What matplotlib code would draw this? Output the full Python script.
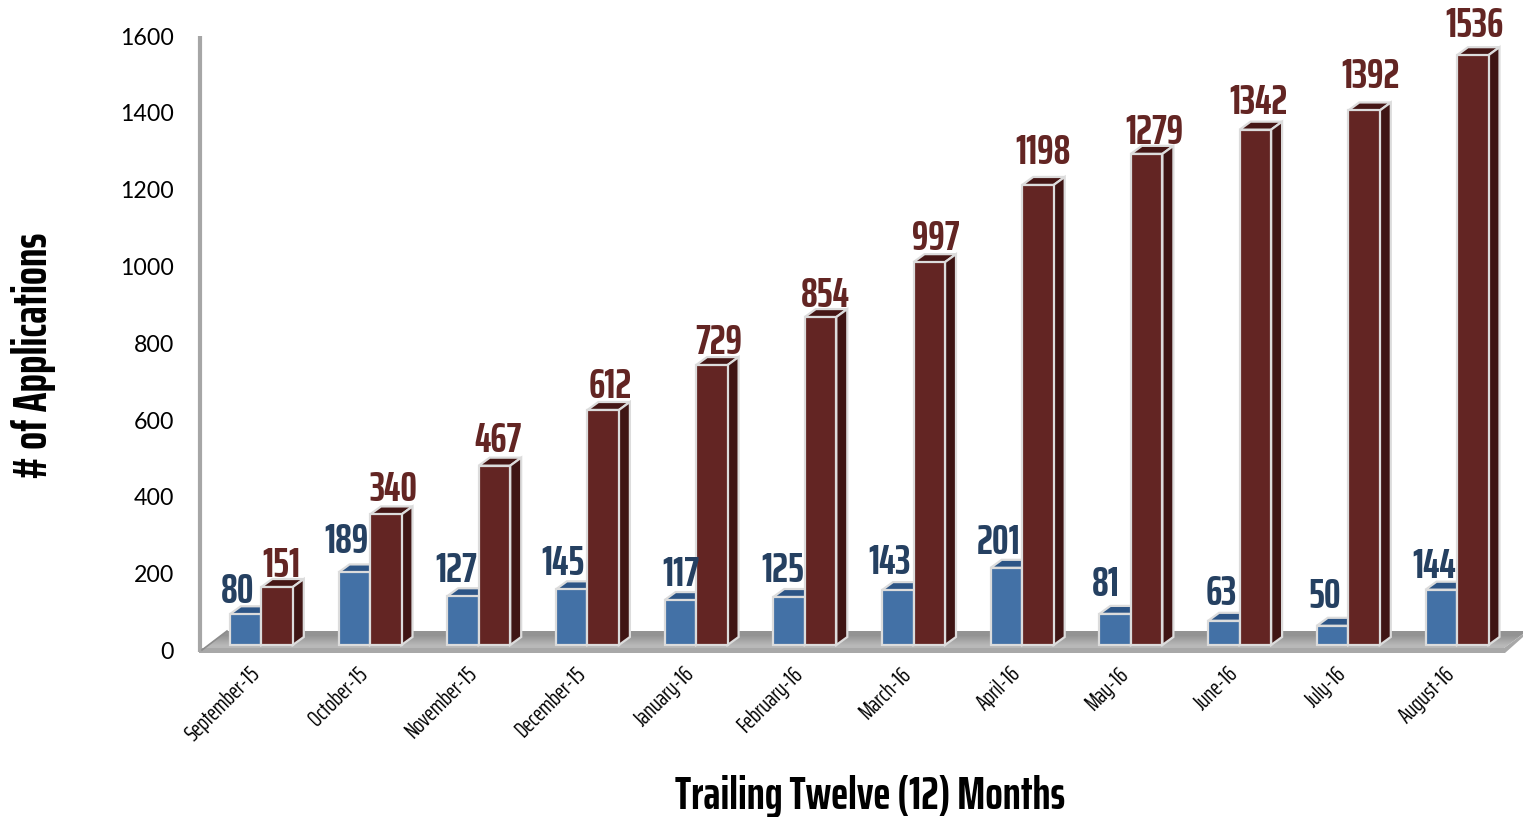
import matplotlib
matplotlib.use('Agg')
import matplotlib.pyplot as plt
from matplotlib.patches import Polygon

months = ['September-15', 'October-15', 'November-15', 'December-15', 'January-16', 'February-16',
          'March-16', 'April-16', 'May-16', 'June-16', 'July-16', 'August-16']
blue_values = [80, 189, 127, 145, 117, 125, 143, 201, 81, 63, 50, 144]
red_values = [151, 340, 467, 612, 729, 854, 997, 1198, 1279, 1342, 1392, 1536]
y_ticks = [0, 200, 400, 600, 800, 1000, 1200, 1400, 1600]

# сдвиги подписей в пикселях: подписи в оригинале расставлены не совсем ровно
blue_dx = [-13, -13, -12, -14, -5, -12, -14, -13, -15, -8, -13, -13]
blue_gap = [3, 11, 6, 6, 6, 7, 8, 6, 10, 8, 10, 4]
red_dx = [-1, 2, -2, 2, 1, -1, 1, 0, 2, -2, 1, -4]
red_gap = [2, 5, 6, 4, 3, 2, 4, 13, 2, 8, 14, 10]

WIDTH_PX = 1523
HEIGHT_PX = 817
SLOT_PX = 108.7      # шаг между месяцами
UNIT_PX = 0.384      # пикселей на одну заявку
ZERO_X = 261.3       # граница синего и красного столбца в первом месяце
ZERO_Y = 645
BAR_W = 31.5 / SLOT_PX
DX = 11 / SLOT_PX    # глубина псевдо-3D
DY = 8 / UNIT_PX
NARROW = ['Saira ExtraCondensed', 'DejaVu Sans']


def px(x, y):
    return (x - ZERO_X) / SLOT_PX, (ZERO_Y - y) / UNIT_PX


fig = plt.figure(figsize=(WIDTH_PX / 100, HEIGHT_PX / 100), dpi=100)
ax = fig.add_axes([0, 0, 1, 1])
x_range = (-ZERO_X / SLOT_PX, (WIDTH_PX - ZERO_X) / SLOT_PX)
y_range = ((ZERO_Y - HEIGHT_PX) / UNIT_PX, ZERO_Y / UNIT_PX)
ax.axis('off')

# пол с лёгким градиентом и стенка
floor = Polygon([px(200, 651), px(227, 631), px(1523, 631), px(1523, 634), px(1504, 648), px(212, 648)],
                facecolor='none', edgecolor='none', zorder=1)
ax.add_patch(floor)
left_x, top_y = px(199, 631)
right_x, bottom_y = px(1523, 650)
floor_img = ax.imshow([[0.58], [0.72]], cmap='gray', vmin=0, vmax=1, aspect='auto', zorder=1,
                      extent=(left_x, right_x, bottom_y, top_y), interpolation='bilinear')
floor_img.set_clip_path(floor)
ax.add_patch(Polygon([px(199, 648), px(1504, 648), px(1523, 634), px(1523, 637), px(1505, 653), px(199, 653)],
                     facecolor='#a8a8a8', edgecolor='none', zorder=1))
ax.plot(*zip(px(199.5, 36), px(199.5, 652)), color='#a6a6a6', lw=3, zorder=2, solid_capstyle='butt')
ax.plot(*zip(px(202, 650), px(227, 631)), color='#8c8c8c', lw=1.2, zorder=2)
ax.set_xlim(*x_range)
ax.set_ylim(*y_range)


def draw_bar(left, value, front, top, side, z):
    edge = '#dcdcdc'
    ax.add_patch(Polygon([(left, value), (left + DX, value + DY), (left + BAR_W + DX, value + DY),
                          (left + BAR_W, value)], facecolor=top, edgecolor=edge, lw=1.6, zorder=z))
    ax.add_patch(Polygon([(left + BAR_W, 0), (left + BAR_W + DX, DY), (left + BAR_W + DX, value + DY),
                          (left + BAR_W, value)], facecolor=side, edgecolor=edge, lw=1.6, zorder=z))
    ax.bar(left, value, width=BAR_W, align='edge', color=front, edgecolor=edge, lw=1.6, zorder=z + 0.1)


for i in range(len(months)):
    draw_bar(i - BAR_W, blue_values[i], '#4371a6', '#2d5586', '#2d5586', 3 + i)
    draw_bar(i, red_values[i], '#632523', '#451716', '#3f1514', 3.5 + i)

    ax.annotate(str(blue_values[i]), (i - BAR_W / 2 + DX / 2, blue_values[i] + DY),
                xytext=(blue_dx[i] * 0.72, blue_gap[i] * 0.72), textcoords='offset points',
                ha='center', va='baseline', fontsize=30, fontweight='bold', color='#254061', zorder=30,
                family=NARROW)
    ax.annotate(str(red_values[i]), (i + BAR_W / 2 + DX / 2, red_values[i] + DY),
                xytext=(red_dx[i] * 0.72, red_gap[i] * 0.72), textcoords='offset points',
                ha='center', va='baseline', fontsize=30, fontweight='bold', color='#632523', zorder=30,
                family=NARROW)

    x_end, y_end = px(ZERO_X + SLOT_PX * i - 13, 663)
    ax.text(x_end, y_end, months[i], rotation=45, rotation_mode='anchor', ha='right', va='top',
            fontsize=16.5, color='black', family=NARROW)

for t in y_ticks:
    x_lab, y_lab = px(174, ZERO_Y + 7.5 - t * UNIT_PX)
    ax.text(x_lab, y_lab, str(t), ha='right', va='center', fontsize=16.7, color='black', family='Lato')

x_t, y_t = px(870, 797)
ax.text(x_t, y_t, 'Trailing Twelve (12) Months', ha='center', va='center', fontsize=33, fontweight='bold',
        color='black', family=NARROW)
x_t, y_t = px(33, 356)
ax.text(x_t, y_t, '# of Applications', rotation=90, ha='center', va='center', fontsize=34, fontweight='bold',
        color='black', family=NARROW)

fig.savefig('out.png', dpi=100)
